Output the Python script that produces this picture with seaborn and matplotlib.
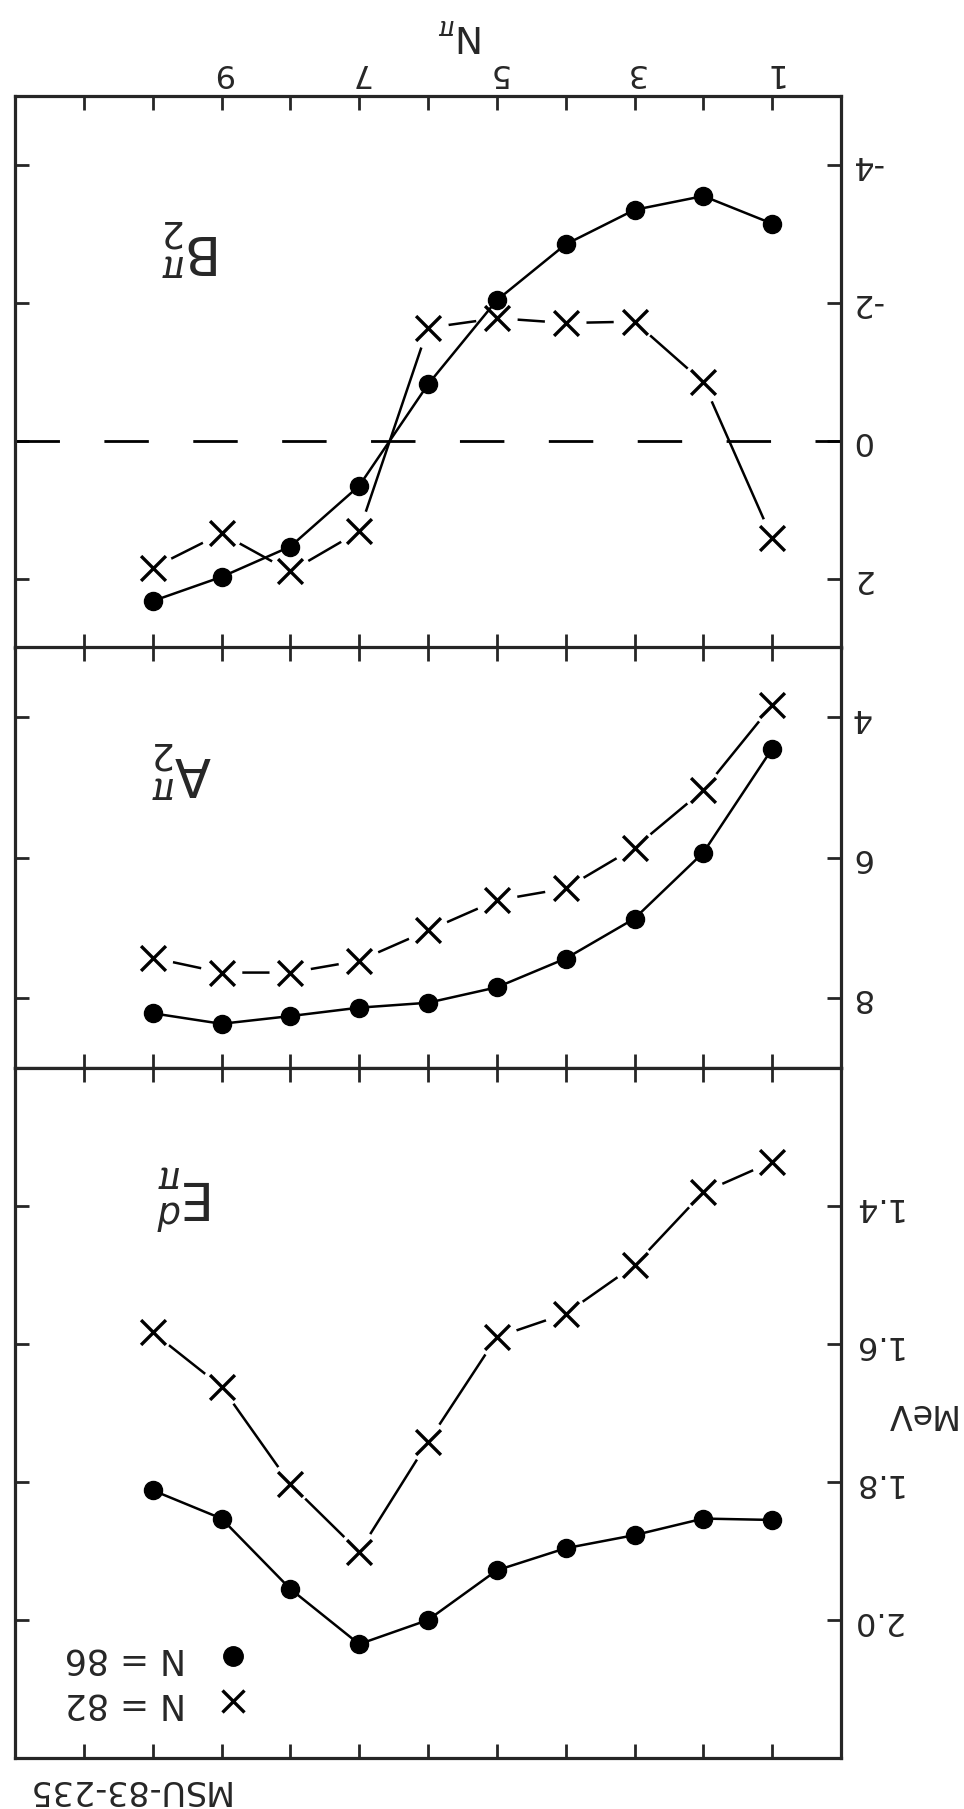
import numpy as np
import pandas as pd
import matplotlib
matplotlib.use('Agg')
import matplotlib.pyplot as plt
from matplotlib.lines import Line2D
import seaborn as sns

n_pi = [1, 2, 3, 4, 5, 6, 7, 8, 9, 10]

# B2 (top panel)
b2_n86 = [-3.15, -3.55, -3.35, -2.85, -2.04, -0.82, 0.65, 1.53, 1.97, 2.32]
b2_n82 = [1.41, -0.85, -1.73, -1.71, -1.78, -1.64, 1.31, 1.89, 1.34, 1.84]

# A2 (middle panel)
a2_n86 = [4.45, 5.93, 6.87, 7.44, 7.85, 8.07, 8.14, 8.26, 8.37, 8.22]
a2_n82 = [3.83, 5.04, 5.86, 6.44, 6.61, 7.04, 7.47, 7.64, 7.64, 7.43]

# Ed in MeV (bottom panel)
ed_n86 = [1.855, 1.853, 1.877, 1.896, 1.928, 2.000, 2.035, 1.955, 1.853, 1.812]
ed_n82 = [1.336, 1.380, 1.486, 1.556, 1.590, 1.742, 1.901, 1.803, 1.662, 1.583]

x_ticks = [1, 2, 3, 4, 5, 6, 7, 8, 9, 10, 11]
x_tick_labels = ['1', '', '3', '', '5', '', '7', '', '9', '', '']
b2_ticks = [-4, -2, 0, 2]
b2_tick_labels = ['-4', '-2', '0', '2']
a2_ticks = [4, 6, 8]
a2_tick_labels = ['4', '6', '8']
ed_ticks = [1.4, 1.6, 1.8, 2.0]
ed_tick_labels = ['1.4', '1.6', '1.8', '2.0']
legend_labels = ['N = 86', 'N = 82']

sns.set_style('ticks')
plt.rcParams['font.family'] = ['DejaVu Sans']
plt.rcParams['mathtext.fontset'] = 'dejavusans'
plt.rcParams['axes.unicode_minus'] = False

fig = plt.figure(figsize=(9.64, 18.09), dpi=100)
W, H = 964, 1809
left, width = 15 / W, 826 / W
ax1 = fig.add_axes([left, 1 - 648 / H, width, 552 / H])
ax2 = fig.add_axes([left, 1 - 1068 / H, width, 421 / H])
ax3 = fig.add_axes([left, 1 - 1758 / H, width, 690 / H])

panels = [
    (ax1, b2_n86, b2_n82, (3, -5), b2_ticks, b2_tick_labels),
    (ax2, a2_n86, a2_n82, (9, 3), a2_ticks, a2_tick_labels),
    (ax3, ed_n86, ed_n82, (2.2, 1.2), ed_ticks, ed_tick_labels),
]

for ax, y86, y82, ylim, yt, ytl in panels:
    # N = 82 : x markers, line broken near each marker
    sns.lineplot(x=n_pi, y=y82, ax=ax, color='black', lw=1.8, zorder=2)
    sns.scatterplot(x=n_pi, y=y82, ax=ax, color='white', s=900,
                    edgecolor='none', zorder=2.5, legend=False)
    sns.scatterplot(x=n_pi, y=y82, ax=ax, color='black', marker='x',
                    s=320, linewidth=2.4, zorder=4, legend=False)
    # N = 86 : filled dots, solid line
    sns.lineplot(x=n_pi, y=y86, ax=ax, color='black', lw=1.8, marker='o',
                 markersize=13, markeredgecolor='black', markeredgewidth=1,
                 zorder=3)

    ax.set_xlim(12, 0)
    ax.set_ylim(*ylim)
    ax.set_xticks(x_ticks)
    ax.set_yticks(yt, labels=ytl)
    ax.set_xlabel('')
    ax.set_ylabel('')
    ax.tick_params(axis='both', direction='in', length=10, width=2,
                   top=True, bottom=True, left=True, right=True,
                   labelleft=False, labelright=True,
                   labelbottom=False, labeltop=False)
    ax.tick_params(axis='y', labelsize=23, labelrotation=180, pad=7)
    for lab in ax.get_yticklabels():
        lab.set_va('center')
    for s in ax.spines.values():
        s.set_linewidth(2.3)

ax1.set_xticks(x_ticks, labels=x_tick_labels)
ax1.tick_params(axis='x', labeltop=True, labelsize=23, labelrotation=180, pad=6)
ax1.axhline(0, color='black', lw=2, linestyle=(0, (16, 16)), zorder=1)

# panel labels (upside down like the scan)
ax1.text(0.213, 0.726, r'$\mathrm{B}^{\pi}_{2}$', transform=ax1.transAxes,
         rotation=180, fontsize=38, ha='center', va='center')
ax2.text(0.201, 0.708, r'$\mathrm{A}^{\pi}_{2}$', transform=ax2.transAxes,
         rotation=180, fontsize=38, ha='center', va='center')
ax3.text(0.206, 0.814, r'$\mathrm{E}^{d}_{\pi}$', transform=ax3.transAxes,
         rotation=180, fontsize=38, ha='center', va='center')

ax1.xaxis.set_label_position('top')
ax1.set_xlabel(r'$\mathrm{N}_{\pi}$', rotation=180, fontsize=27, va='center')
ax1.xaxis.set_label_coords(0.54, 1.11)

ax3.yaxis.set_label_position('right')
ax3.set_ylabel('MeV', rotation=180, fontsize=24, va='center', ha='center')
ax3.yaxis.set_label_coords(1.094, 0.5)

handles = [Line2D([], [], ls='none', marker='o', color='black', ms=14),
           Line2D([], [], ls='none', marker='x', color='black', ms=16, mew=2.4)]
leg = ax3.legend(handles, legend_labels, markerfirst=False, frameon=False,
                 loc='lower left', bbox_to_anchor=(0.06, 0.055), borderpad=0,
                 borderaxespad=0, fontsize=25, handlelength=1.0,
                 handletextpad=0.85, labelspacing=0.3)
for t in leg.get_texts():
    t.set_rotation(180)

fig.text(126 / W, 1 - 1790 / H, 'MSU-83-235', rotation=180, fontsize=24,
         ha='center', va='center')

fig.savefig('out.png', dpi=100)
